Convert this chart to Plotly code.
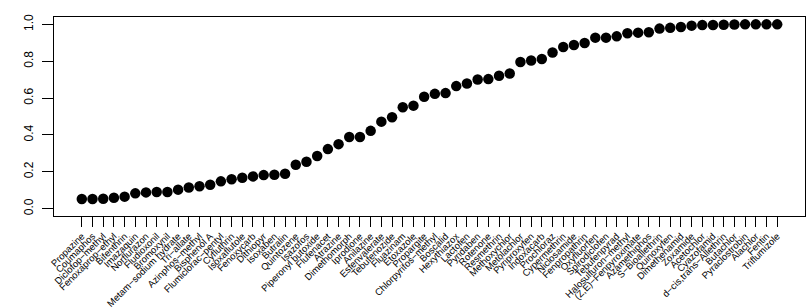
import plotly.graph_objects as go

compounds = [
    "Propazine", "Coumaphos", "Diclofop−methyl", "Fenoxaprop−ethyl", "Bifenthrin",
    "Imazaquin", "Norflurazon", "Fludioxonil", "Bromoxynil", "Metam−sodium hydrate",
    "Tri−allate", "Azinphos−methyl", "Bisphenol A", "Flumiclorac−pentyl", "Cyfluthrin",
    "Isoxaflutole", "Fenoxycarb", "Dithiopyr", "Isoxaben", "Butralin",
    "Quintozene", "Isazofos", "Piperonyl butoxide", "Flufenacet", "Atrazine",
    "Dimethomorph", "Iprodione", "Anilazine", "Esfenvalerate", "Tebufenozide",
    "Fluazinam", "Etoxazole", "Propargite", "Chlorpyrifos−methyl", "Boscalid",
    "Hexythiazox", "Lactofen", "Pyridaben", "Rotenone", "Resmethrin",
    "Methoxychlor", "Metolachlor", "Pyriproxyfen", "Indoxacarb", "Prochloraz",
    "Cypermethrin", "Niclosamide", "Fenpropathrin", "Oxyfluorfen", "Spirodiclofen",
    "Tebufenpyrad", "Halosulfuron−methyl", "(Z,E)−Fenpyroximate", "Azamethiphos", "S−Bioallethrin",
    "Quinoxyfen", "Dimethenamid", "Zoxamide", "Acetochlor", "Cyazofamid",
    "d−cis,trans−Allethrin", "Butachlor", "Pyraclostrobin", "Alachlor", "Fentin",
    "Triflumizole",
]

values = [
    0.052, 0.052, 0.054, 0.059, 0.065,
    0.083, 0.088, 0.090, 0.090, 0.103,
    0.115, 0.121, 0.130, 0.148, 0.159,
    0.168, 0.175, 0.182, 0.184, 0.189,
    0.238, 0.254, 0.286, 0.323, 0.350,
    0.389, 0.389, 0.422, 0.472, 0.496,
    0.550, 0.559, 0.607, 0.623, 0.627,
    0.665, 0.679, 0.701, 0.703, 0.721,
    0.733, 0.796, 0.804, 0.812, 0.847,
    0.877, 0.888, 0.899, 0.928, 0.928,
    0.935, 0.952, 0.955, 0.957, 0.977,
    0.981, 0.986, 0.993, 0.996, 0.997,
    0.998, 0.999, 1.000, 1.000, 1.000,
    1.000,
]

y_ticks = [0.0, 0.2, 0.4, 0.6, 0.8, 1.0]
y_tick_labels = ["0.0", "0.2", "0.4", "0.6", "0.8", "1.0"]

n = len(compounds)
pad_x = 0.04 * (n - 1)

fig = go.Figure(
    go.Scatter(
        x=compounds,
        y=values,
        mode="markers",
        marker=dict(color="black", size=10.5),
        hoverinfo="x+y",
    )
)

fig.update_layout(
    width=810,
    height=308,
    margin=dict(l=54, r=5, t=17, b=92, autoexpand=False),
    paper_bgcolor="white",
    plot_bgcolor="white",
    showlegend=False,
    font=dict(family="Liberation Sans, Arial, sans-serif", color="black"),
)

fig.update_xaxes(
    type="category",
    range=[-pad_x, n - 1 + pad_x],
    automargin=False,
    showgrid=False,
    zeroline=False,
    showline=True,
    linecolor="black",
    linewidth=1,
    mirror=True,
    ticks="outside",
    ticklen=10,
    tickwidth=1,
    tickcolor="black",
    tickangle=-45,
    tickfont=dict(size=9.5, color="black"),
    tickmode="array",
    tickvals=compounds,
    ticktext=compounds,
    ticklabelstandoff=0,
)

fig.update_yaxes(
    range=[-0.04, 1.04],
    automargin=False,
    showgrid=False,
    zeroline=False,
    showline=True,
    linecolor="black",
    linewidth=1,
    mirror=True,
    ticks="outside",
    ticklen=11,
    tickwidth=1,
    tickcolor="black",
    tickmode="array",
    tickvals=y_ticks,
    ticktext=y_tick_labels,
    tickangle=-90,
    tickfont=dict(size=12, color="black"),
    ticklabelstandoff=4,
)

fig.write_html("out.html")
